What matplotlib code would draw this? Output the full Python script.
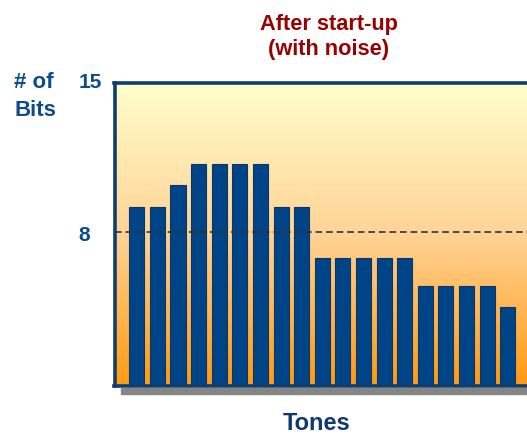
import numpy as np
import matplotlib
matplotlib.use("Agg")
import matplotlib.pyplot as plt
from matplotlib.colors import LinearSegmentedColormap
from matplotlib.patches import Rectangle

# ---- data ----
tones = list(range(19))
bits = [9.2, 9.2, 10.2, 11.2, 11.2, 11.2, 11.2, 9.2, 9.2,
        6.8, 6.8, 6.8, 6.8, 6.8,
        5.5, 5.5, 5.5, 5.5,
        4.5]
threshold = 8
ytick_vals = [8, 15]
ytick_labels = ["8", "15"]
title_lines = ["After start-up", "(with noise)"]
ylabel_lines = ["# of", "Bits"]
xlabel_text = "Tones"

W, H = 527, 438
fig = plt.figure(figsize=(W / 100, H / 100), dpi=100)
plt.rcParams['font.family'] = ['Liberation Sans', 'DejaVu Sans']

def fx(px):
    return px / W

def fy(py):
    return 1 - py / H

left, right = 114.5, 527
top, bottom = 82.5, 385.8
ax = fig.add_axes([fx(left), fy(bottom), fx(right) - fx(left), fy(top) - fy(bottom)])
ax.set_xlim(-1.083, 18.94)
ax.set_ylim(0.83, 15)

# gradient background
cmap = LinearSegmentedColormap.from_list(
    "bg", [(0.0, "#FF9A10"), (0.5, "#FFD396"), (1.0, "#FFFFCC")])
grad = np.linspace(0, 1, 256).reshape(-1, 1)
ax.imshow(grad, aspect="auto", cmap=cmap, origin="lower",
          extent=[0, 1, 0, 1], transform=ax.transAxes, zorder=0)

ax.bar(tones, bits, width=0.73, color="#004488", edgecolor="#0a3566",
       linewidth=0.8, zorder=2)

plt.rcParams['lines.scale_dashes'] = False
ax.axhline(threshold, color="#333333", linewidth=1.2,
           linestyle=(0, (4.8, 2.8)), zorder=3)

spine_color = "#0f3d6f"
for s in ["left", "top", "bottom"]:
    ax.spines[s].set_color(spine_color)
    ax.spines[s].set_linewidth(2.6)
    ax.spines[s].set_zorder(4)
ax.spines["right"].set_visible(False)
ax.set_xticks([])
ax.set_yticks([])

# shadow under the bottom axis
fig.patches.append(Rectangle((fx(121), fy(394)), fx(527) - fx(121), fy(387.5) - fy(394),
                             transform=fig.transFigure, color="#858585", zorder=0))

label_color = "#0D4A8E"
# y tick labels at their data values (right-aligned left of the axis)
tick_offsets = {"8": (-24.5, -8.7), "15": (-12.5, -5.8)}
for v, lab in zip(ytick_vals, ytick_labels):
    ax.annotate(lab, xy=(0, v), xycoords=ax.get_yaxis_transform(),
                xytext=tick_offsets[lab], textcoords="offset pixels",
                ha="right", va="baseline", fontsize=15, fontweight="bold", color=label_color,
                annotation_clip=False)

fig.text(fx(14), fy(88.3), ylabel_lines[0], ha="left", va="baseline", fontsize=16,
         fontweight="bold", color=label_color)
fig.text(fx(14), fy(115.5), ylabel_lines[1], ha="left", va="baseline", fontsize=16,
         fontweight="bold", color=label_color)
fig.text(fx(328.8), fy(30), title_lines[0], ha="center", va="baseline", fontsize=15.7,
         fontweight="bold", color="#990000")
fig.text(fx(328.8), fy(55.5), title_lines[1], ha="center", va="baseline", fontsize=15.7,
         fontweight="bold", color="#990000")
fig.text(fx(316.7), fy(429.5), xlabel_text, ha="center", va="baseline", fontsize=17,
         fontweight="bold", color="#0F3A70")

fig.savefig("out.png", dpi=100)
